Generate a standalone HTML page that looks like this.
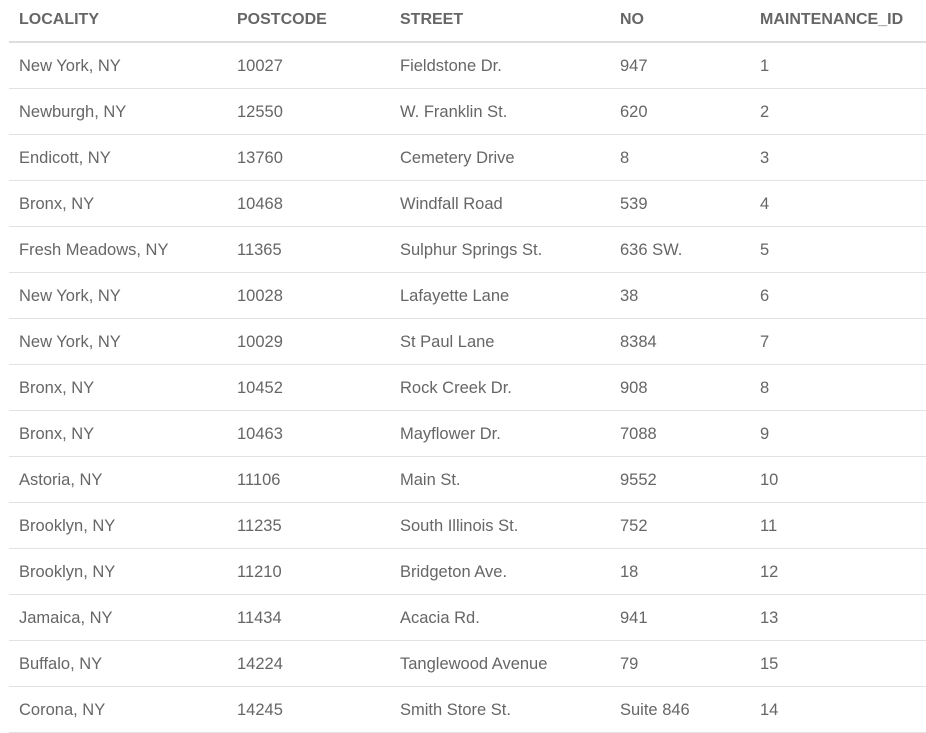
<!DOCTYPE html>
<html><head><meta charset="utf-8"><style>
body{margin:0;width:926px;height:732px;background:#fff;overflow:hidden;font-family:"Liberation Sans",sans-serif;color:#666;}
.t{position:absolute;left:9px;top:0;width:917px}
.hd,.row{position:absolute;left:0;width:917px;height:46px}
.hd{top:0;height:41px;border-bottom:2px solid #ddd}
.row{border-bottom:1px solid #e2e2e2;height:45px}
.c{position:absolute;top:0;line-height:41px;font-size:16.5px;white-space:nowrap}
.row .c{line-height:45px;top:1px}
.hd .c{font-weight:bold;font-size:16px;line-height:39px}
</style></head><body>
<div class="t" id="t">
<div class="hd">
<span class="c" style="left:10px">LOCALITY</span>
<span class="c" style="left:228px">POSTCODE</span>
<span class="c" style="left:391px">STREET</span>
<span class="c" style="left:611px">NO</span>
<span class="c" style="left:751px">MAINTENANCE_ID</span>
</div>
</div>
<script>
const localities=["New York, NY","Newburgh, NY","Endicott, NY","Bronx, NY","Fresh Meadows, NY","New York, NY","New York, NY","Bronx, NY","Bronx, NY","Astoria, NY","Brooklyn, NY","Brooklyn, NY","Jamaica, NY","Buffalo, NY","Corona, NY"];
const postcodes=["10027","12550","13760","10468","11365","10028","10029","10452","10463","11106","11235","11210","11434","14224","14245"];
const streets=["Fieldstone Dr.","W. Franklin St.","Cemetery Drive","Windfall Road","Sulphur Springs St.","Lafayette Lane","St Paul Lane","Rock Creek Dr.","Mayflower Dr.","Main St.","South Illinois St.","Bridgeton Ave.","Acacia Rd.","Tanglewood Avenue","Smith Store St."];
const nos=["947","620","8","539","636 SW.","38","8384","908","7088","9552","752","18","941","79","Suite 846"];
const ids=["1","2","3","4","5","6","7","8","9","10","11","12","13","15","14"];
const t=document.getElementById('t');
const lefts=[10,228,391,611,751];
const names=['locality','postcode','street','no','maintenance-id'];
for(let i=0;i<localities.length;i++){
 const r=document.createElement('div');r.className='row';r.style.top=(43+46*i)+'px';
 
 
 const vals=[localities[i],postcodes[i],streets[i],nos[i],ids[i]];
 vals.forEach((v,j)=>{const s=document.createElement('span');s.className='c';s.style.left=lefts[j]+'px';s.textContent=v;
  
  
  r.appendChild(s);});
 t.appendChild(r);
}
</script>
</body></html>
